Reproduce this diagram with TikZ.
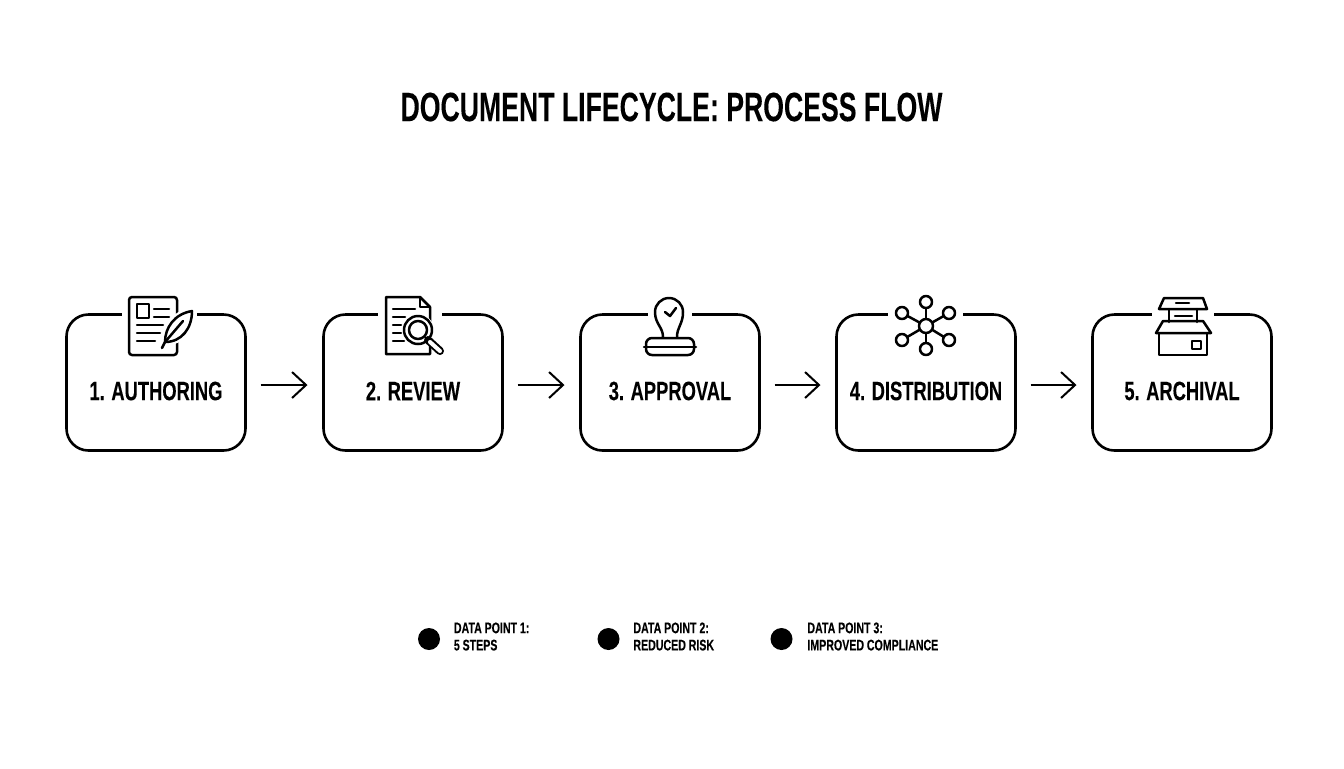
\documentclass[tikz,border=0pt]{standalone}
\usepackage{fontspec}
\setmainfont[FakeStretch=0.69, WordSpace=0.95, BoldFeatures={FakeBold=0.08}]{Liberation Sans}
\newfontfamily\titlefont[FakeStretch=0.65, WordSpace=1.0, BoldFeatures={FakeBold=0.08}]{Liberation Sans}
\usetikzlibrary{arrows.meta}
\tikzset{
    stepbox/.style={draw, line width=1.3pt, rounded corners=11pt, minimum width=89.5pt, minimum height=68pt, inner sep=0pt, outer sep=0pt},
    steplabel/.style={font=\fontsize{13.3}{15}\selectfont\bfseries},
    flowarrow/.style={-{Straight Barb[length=7pt,width=13pt,line width=1pt]}, line width=1pt, shorten <=7.5pt, shorten >=8pt},
    iconline/.style={line width=1.25pt, line cap=round, line join=round},
    legenddot/.style={circle, fill=black, minimum size=11pt, inner sep=0pt},
    legendtext/.style={anchor=west, align=left, inner sep=0pt, font=\fontsize{7.7}{8.6}\selectfont\bfseries}
}
\begin{document}
\begin{tikzpicture}[x=0.5pt, y=-0.5pt]
\useasboundingbox (0,0) rectangle (1344,768);
\node[font=\titlefont\fontsize{20.5}{24}\selectfont\bfseries] (title) at (671.5,107) {DOCUMENT LIFECYCLE: PROCESS FLOW};
% boxes, with a gap in the top edge for each icon
\foreach \i/\x/\lft/\rgt/\name in {1/156/122/197/1. AUTHORING, 2/413/378/442/2. REVIEW, 3/670/648/692/3. APPROVAL, 4/926/888/963/4. DISTRIBUTION, 5/1182/1152/1214/5. ARCHIVAL} {
    \node[stepbox] (step\i) at (\x,382.5) {};
    \fill[white] (\lft,308) rectangle (\rgt,320);
    \node[steplabel] (label\i) at (\x,391) {\name};
}
\foreach \a/\b in {1/2, 2/3, 3/4, 4/5} {
    \draw[flowarrow] ([yshift=-1.25pt]step\a.east) -- ([yshift=-1.25pt]step\b.west);
}
% authoring
\begin{scope}[iconline]
    \draw[rounded corners=1.5pt] (129,297) rectangle (177,355);
    \draw (137,304) rectangle (149,318);
    \foreach \y/\e in {309/169, 317/169} \draw (154,\y) -- (\e,\y);
    \foreach \y/\e in {325/163, 333/160, 341/155} \draw (137,\y) -- (\e,\y);
    \draw[white, line width=3.5pt] (192,311) .. controls (174,314) and (165,328) .. (165,342) .. controls (182,342) and (192,328) .. cycle;
    \fill[white] (192,311) .. controls (174,314) and (165,328) .. (165,342) .. controls (182,342) and (192,328) .. cycle;
    \draw (192,311) .. controls (174,314) and (165,328) .. (165,342) .. controls (182,342) and (192,328) .. cycle;
    \draw (162,348) -- (165,342) -- (183,321);
\end{scope}
% review
\begin{scope}[iconline]
    \draw (420,297) -- (386,297) -- (386,354) -- (430,354) -- (430,307) -- cycle;
    \draw (420,297) -- (420,307) -- (430,307);
    \foreach \y/\e in {309/415, 317/405, 325/401, 333/401, 341/404} \draw (393,\y) -- (\e,\y);
    \fill[white] (418,330) circle (16);
    \draw (418,330) circle (14);
    \draw (418,330) circle (9);
    \draw[line width=4pt] (428,340) -- (440,351);
    \draw[white, line width=2pt] (430,342) -- (440,351);
\end{scope}
% approval
\begin{scope}[iconline]
    \draw (663,337) .. controls (663,327) and (655,324) .. (655,312) arc[start angle=180, end angle=360, radius=14] .. controls (683,324) and (677,327) .. (677,337);
    \draw (665,312) -- (670,316) -- (676,308);
    \draw[rounded corners=3pt] (646,338) rectangle (694,355);
    \draw (644,347) -- (696,347);
\end{scope}
% distribution
\begin{scope}[iconline]
    \foreach \sx/\sy in {926/302, 949/313, 949/340, 926/349, 902/340, 902/313} {
        \draw (926,326) -- (\sx,\sy);
        \filldraw[fill=white] (\sx,\sy) circle (6);
    }
    \filldraw[fill=white] (926,326) circle (7);
\end{scope}
% archival
\begin{scope}[iconline]
    \draw (1164,298) -- (1203,298) -- (1207,309) -- (1159,309) -- cycle;
    \draw (1176,303) -- (1189,303);
    \draw (1169,309) -- (1169,322) (1197,309) -- (1197,322);
    \draw (1175,316) -- (1192,316);
    \draw (1163,321) -- (1203,321) -- (1211,333) -- (1156,333) -- cycle;
    \draw (1159,333) -- (1159,355) -- (1207,355) -- (1207,333);
    \draw (1192,341) rectangle (1201,349);
\end{scope}
% legend
\foreach \i/\x/\tx/\name in {1/429/453.5/{DATA POINT 1:\\5 STEPS}, 2/608.5/633/{DATA POINT 2:\\REDUCED RISK}, 3/781.5/807/{DATA POINT 3:\\IMPROVED COMPLIANCE}} {
    \node[legenddot] (dot\i) at (\x,639) {};
    \node[legendtext] (data\i) at (\tx,636.5) {\name};
}
\end{tikzpicture}
\end{document}
